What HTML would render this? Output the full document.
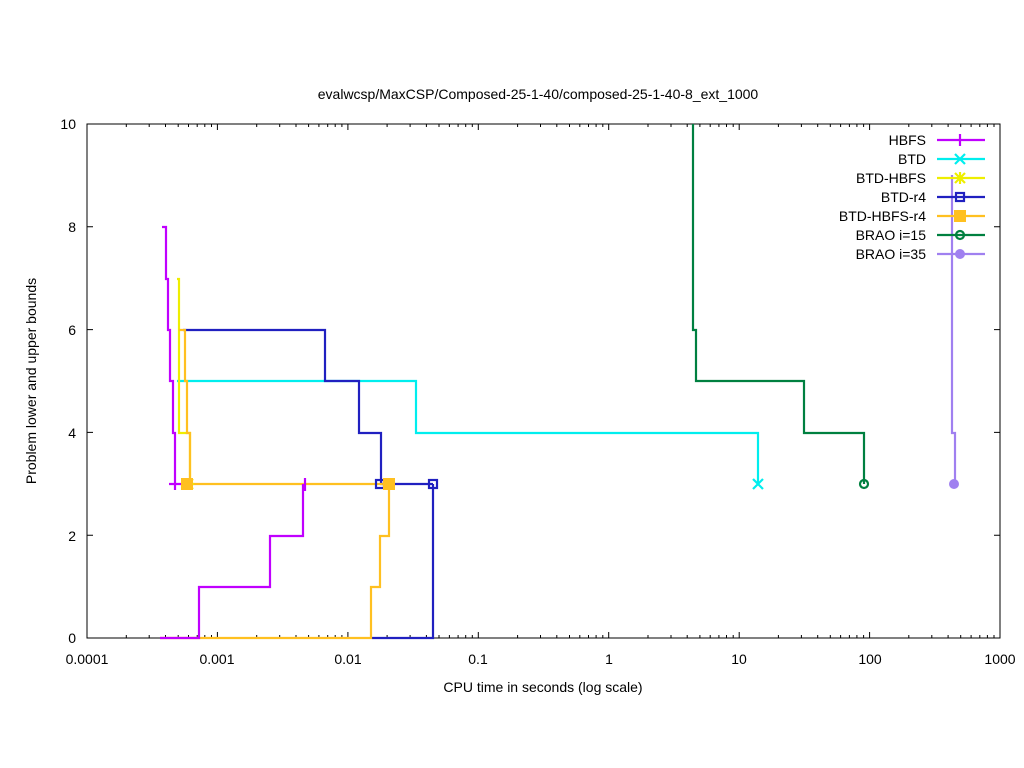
<!DOCTYPE html>
<html><head><meta charset="utf-8"><style>body{margin:0;background:#fff}svg{display:block}text{font-family:"Liberation Sans",sans-serif;font-size:14px;fill:#000}</style></head><body>
<svg width="1024" height="768" viewBox="0 0 1024 768" xmlns="http://www.w3.org/2000/svg">
<rect width="1024" height="768" fill="#fff"/>
<g id="ticks" stroke="#000" stroke-width="1"></g>
<rect x="87" y="124" width="913" height="514" fill="none" stroke="#000"/>
<g text-anchor="end">
<text x="76" y="643">0</text><text x="76" y="541">2</text><text x="76" y="438">4</text><text x="76" y="335">6</text><text x="76" y="232">8</text><text x="76" y="129">10</text>
</g>
<g text-anchor="middle">
<text x="87" y="664">0.0001</text><text x="217" y="664">0.001</text><text x="348" y="664">0.01</text><text x="478" y="664">0.1</text><text x="609" y="664">1</text><text x="739" y="664">10</text><text x="870" y="664">100</text><text x="1000" y="664">1000</text>
<text x="543" y="692">CPU time in seconds (log scale)</text>
<text x="538" y="99">evalwcsp/MaxCSP/Composed-25-1-40/composed-25-1-40-8_ext_1000</text>
<text transform="translate(36,381) rotate(-90)">Problem lower and upper bounds</text>
</g>
<g fill="none" stroke-width="2.2">
<path stroke="#00eeee" d="M177,381H416V433H758V484"/>
<path stroke="#eeee00" d="M177,279H179V433H190V484"/>
<path stroke="#2020c0" d="M183,330H325V381H359V433H381V484H433M372,638H433V484"/>
<path stroke="#ffc020" d="M179,330H185V381H187V433H190V484H389M160,638H371V587H380V536H389V484"/>
<path stroke="#c000ff" d="M162,227H166V279H168V330H170V381H173V433H175V490M169,484H181M160,638H199V587H270V536H303V484M305,478V491"/>
<path stroke="#008040" d="M693,124V330H696V381H804V433H864V484"/>
<path stroke="#a080f0" d="M952,175V433H955V484"/>
</g>
<g stroke-width="2.2" fill="none">
<path stroke="#00eeee" d="M753,479l10,10M763,479l-10,10"/>
<path stroke="#eeee00" d="M183,479l10,10M193,479l-10,10M188,478v12M182,484h12"/>
<rect x="376" y="480" width="8" height="8" stroke="#2020c0"/>
<rect x="429" y="480" width="8" height="8" stroke="#2020c0"/>
<circle cx="864" cy="484" r="4" stroke="#008040"/>
</g>
<rect x="181" y="478" width="12" height="12" fill="#ffc020"/>
<rect x="383" y="478" width="12" height="12" fill="#ffc020"/>
<circle cx="954" cy="484" r="5" fill="#a080f0"/>
<g text-anchor="end">
<text x="926" y="145">HBFS</text><text x="926" y="164">BTD</text><text x="926" y="183">BTD-HBFS</text><text x="926" y="202">BTD-r4</text><text x="926" y="221">BTD-HBFS-r4</text><text x="926" y="240">BRAO i=15</text><text x="926" y="259">BRAO i=35</text>
</g>
<g stroke-width="2.2" fill="none">
<path stroke="#c000ff" d="M937,140H985M960,134V146"/>
<path stroke="#00eeee" d="M937,159H985M955,154l10,10M965,154l-10,10"/>
<path stroke="#eeee00" d="M937,178H985M955,173l10,10M965,173l-10,10M960,172v12"/>
<path stroke="#2020c0" d="M937,197H985"/><rect x="956" y="193" width="8" height="8" stroke="#2020c0"/>
<path stroke="#ffc020" d="M937,216H985"/>
<path stroke="#008040" d="M937,235H985"/><circle cx="960" cy="235" r="4" stroke="#008040"/>
<path stroke="#a080f0" d="M937,254H985"/>
</g>
<rect x="954" y="210" width="12" height="12" fill="#ffc020"/>
<circle cx="960" cy="254" r="5" fill="#a080f0"/>
<script>
var g=document.getElementById('ticks'),s='';
for(var d=0;d<7;d++){for(var k=1;k<10;k++){var x=87+(d+Math.log10(k))*130.43;var L=k==1?6:3;s+='M'+x.toFixed(1)+',638v-'+L+'M'+x.toFixed(1)+',124v'+L;}}
s+='M1000,638v-6M1000,124v6';
for(var i=0;i<=5;i++){var y=638-i*102.8;s+='M87,'+y+'h6M1000,'+y+'h-6';}
var p=document.createElementNS('http://www.w3.org/2000/svg','path');p.setAttribute('d',s);g.appendChild(p);
</script>
</svg>
</body></html>
